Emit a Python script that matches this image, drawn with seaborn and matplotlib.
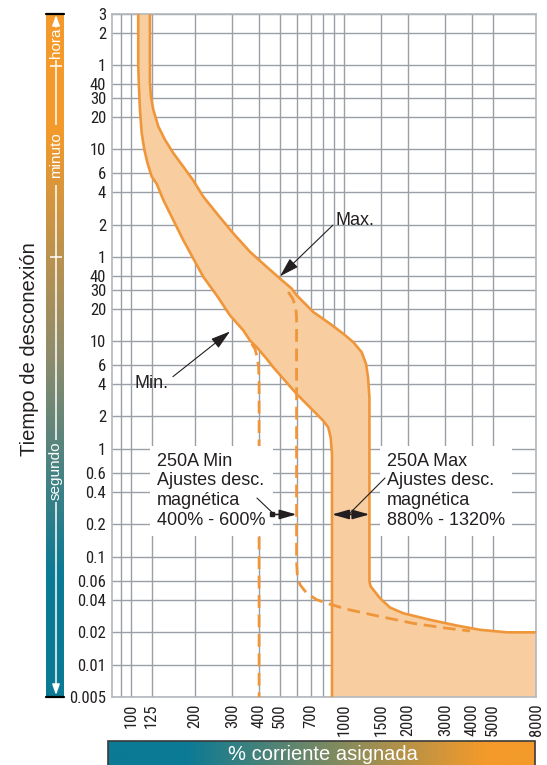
import numpy as np
import pandas as pd
import matplotlib
matplotlib.use("Agg")
import matplotlib.pyplot as plt
from matplotlib import font_manager as fm
from matplotlib.colors import LinearSegmentedColormap
from matplotlib.ticker import NullLocator
from matplotlib.patches import Rectangle
import seaborn as sns

# ---------------- data (percent of rated current, time in seconds) ----------------
max_pct = [122.8, 122.8, 124.1, 127.3, 134.4, 144.4, 158.1, 176.0, 196.0, 218.7, 252.7,
           302.5, 362.4, 434.2, 501.4, 569.1, 600.6, 719.0, 861.0, 994.7, 1108, 1214,
           1272, 1300, 1320, 1320, 1338, 1480, 1648, 1904, 2542, 3393, 4365, 5830, 8000]
max_sec = [10800, 2489, 1866, 1403, 981, 738, 554, 416, 310, 218.8, 153.2,
           99.8, 67.3, 48.8, 38.0, 30.7, 26.6, 18.6, 14.5, 11.7, 9.77, 7.88,
           6.15, 4.61, 3.00, 0.059, 0.053, 0.0412, 0.0338, 0.0299, 0.0260, 0.0230, 0.0210, 0.0199, 0.0199]

min_pct = [108.2, 108.2, 109.0, 110.2, 112.3, 115.6, 119.6, 125.1, 132.1, 141.9, 158.0,
           176.1, 196.2, 218.7, 252.7, 292.0, 337.2, 362.4, 389.6, 434.2, 466.4, 600.6,
           719.0, 801.0, 845.6, 867.8, 880.0, 880.0]
min_sec = [10800, 3550, 2313, 1403, 851, 595, 448, 336, 287, 203.7, 132.7,
           86.4, 58.4, 39.4, 26.6, 17.3, 12.56, 10.13, 8.78, 6.84, 5.71, 3.23,
           2.26, 1.82, 1.58, 1.27, 0.893, 0.005]

dmin_pct = [369.0, 382.5, 392.0, 398.0, 400.0, 400.0]
dmin_sec = [9.44, 8.48, 7.08, 5.71, 4.0, 0.005]

dmax_pct = [548.6, 575.3, 594.3, 600.0, 600.0, 604.6, 622.5, 669.4, 746, 861, 1032,
            1479, 2121, 3045, 3917]
dmax_sec = [28.5, 24.8, 20.7, 16.7, 0.0906, 0.0681, 0.0550, 0.0459, 0.0399, 0.0363, 0.0326,
            0.0279, 0.0241, 0.0217, 0.0205]

x_tick_vals = [100, 125, 200, 300, 400, 500, 700, 1000, 1500, 2000, 3000, 4000, 5000, 8000]
x_grid_only = [90, 600, 800, 900]
y_tick_vals = [10800, 7200, 3600, 2400, 1800, 1200, 600, 360, 240, 120, 60, 40, 30, 20, 10,
               6, 4, 2, 1, 0.6, 0.4, 0.2, 0.1, 0.06, 0.04, 0.02, 0.01, 0.005]
y_tick_labels = ["3", "2", "1", "40", "30", "20", "10", "6", "4", "2", "1", "40", "30", "20",
                 "10", "6", "4", "2", "1", "0.6", "0.4", "0.2", "0.1", "0.06", "0.04", "0.02",
                 "0.01", "0.005"]

# ---------------- style ----------------
ORANGE = "#F0963A"
FILL = "#F8CDA0"
TEAL = "#0B7A95"
BAR_OR = "#F39A2B"
INK = "#231F20"
GRID = "#9A9FA5"

sns.set_theme(style="white")
plt.rcParams['font.family'] = ['Liberation Sans', 'DejaVu Sans']

# condensed face for tick numbers if one is installed, else a smaller regular face
installed = {f.name for f in fm.fontManager.ttflist}
narrow = next((n for n in ['Liberation Sans Narrow', 'Roboto Condensed', 'Open Sans Condensed',
                           'Arial Narrow', 'DejaVu Sans Condensed'] if n in installed), None)
if narrow:
    tick_family, tick_size = [narrow, 'Liberation Sans'], 12
else:
    tick_family, tick_size = ['Liberation Sans', 'DejaVu Sans'], 11

W, H = 547, 765
fig = plt.figure(figsize=(W / 100, H / 100), dpi=100)
ax = fig.add_axes([111.7 / W, 1 - 697 / H, (536 - 111.7) / W, (697 - 14) / H])
ax.set_xscale('log')
ax.set_yscale('log')

# fill band
poly_x = min_pct + [8000] + max_pct[::-1]
poly_y = min_sec + [0.005] + max_sec[::-1]
ax.fill(poly_x, poly_y, color=FILL, lw=0, zorder=2)

df_max = pd.DataFrame({'pct': max_pct, 'sec': max_sec})
df_min = pd.DataFrame({'pct': min_pct, 'sec': min_sec})
df_dmin = pd.DataFrame({'pct': dmin_pct, 'sec': dmin_sec})
df_dmax = pd.DataFrame({'pct': dmax_pct, 'sec': dmax_sec})

for d in (df_max, df_min):
    sns.lineplot(data=d, x='pct', y='sec', ax=ax, sort=False, estimator=None,
                 color=ORANGE, linewidth=1.9, zorder=4)
for d in (df_dmin, df_dmax):
    sns.lineplot(data=d, x='pct', y='sec', ax=ax, sort=False, estimator=None,
                 color=ORANGE, linewidth=2.0, linestyle=(0, (4.6, 2.4)), zorder=4)

ax.set_xlim(81.2, 8000)
ax.set_ylim(0.005, 10800)
ax.set_xlabel('')
ax.set_ylabel('')

xt = sorted(x_tick_vals + x_grid_only)
ax.set_xticks(xt)
ax.set_xticklabels([str(v) if v in x_tick_vals else '' for v in xt], rotation=90)
ax.set_yticks(y_tick_vals)
ax.set_yticklabels(y_tick_labels)
ax.xaxis.set_minor_locator(NullLocator())
ax.yaxis.set_minor_locator(NullLocator())
ax.tick_params(axis='both', length=0, colors=INK)
ax.tick_params(axis='x', pad=4.5)
ax.tick_params(axis='y', pad=4)
for lbl in ax.get_xticklabels() + ax.get_yticklabels():
    lbl.set_family(tick_family)
    lbl.set_fontsize(tick_size)
    lbl.set_color(INK)
ax.grid(True, which='major', color=GRID, linewidth=1.0, zorder=0)
ax.set_axisbelow(True)
for s in ax.spines.values():
    s.set_color('#B3B8BD')
    s.set_linewidth(1.2)

# annotations
ax.text(919, 132.7, "Max.", fontsize=13, color=INK, ha='left', va='center', zorder=6)
ax.annotate('', xy=(501.4, 39.9), xytext=(889, 119), zorder=6,
            arrowprops=dict(arrowstyle='-|>,head_length=0.8,head_width=0.24', mutation_scale=15,
                            color=INK, lw=0.8, shrinkA=0, shrinkB=0))
ax.text(104.4, 4.03, "Min.", fontsize=13, color=INK, ha='left', va='center', zorder=6)
ax.annotate('', xy=(291.9, 12.28), xytext=(157.5, 4.68), zorder=6,
            arrowprops=dict(arrowstyle='-|>,head_length=0.8,head_width=0.24', mutation_scale=15,
                            color=INK, lw=0.8, shrinkA=0, shrinkB=0))

box = dict(boxstyle='square,pad=0.4', facecolor='white', edgecolor='none')
ax.text(132.5, 0.92, "250A Min\nAjustes desc.\nmagnética\n400% - 600%", fontsize=13,
        color=INK, ha='left', va='top', linespacing=1.2, bbox=box, zorder=5)
ax.text(1596, 0.92, "250A Max\nAjustes desc.\nmagnética\n880% - 1320%", fontsize=13,
        color=INK, ha='left', va='top', linespacing=1.2, bbox=box, zorder=5)

ax.annotate('', xy=(459, 0.259), xytext=(391, 0.35), zorder=6,
            arrowprops=dict(arrowstyle='-', color=INK, lw=0.8, shrinkA=0, shrinkB=0))
ax.annotate('', xy=(600, 0.2466), xytext=(459, 0.2466), zorder=6,
            arrowprops=dict(arrowstyle='-|>,head_length=0.85,head_width=0.24',
                            mutation_scale=12, color=INK, lw=1.2, shrinkA=0, shrinkB=0))
ax.plot([462], [0.2466], marker='s', markersize=3.5, color=INK, zorder=6)
ax.annotate('', xy=(1069, 0.2535), xytext=(1562, 0.537), zorder=6,
            arrowprops=dict(arrowstyle='-', color=INK, lw=0.8, shrinkA=0, shrinkB=0))
ax.annotate('', xy=(1320, 0.2466), xytext=(880, 0.2466), zorder=6,
            arrowprops=dict(arrowstyle='<|-|>,head_length=0.85,head_width=0.24',
                            mutation_scale=12, color=INK, lw=1.2, shrinkA=0, shrinkB=0))

# ---------------- decorative bars (figure pixel coordinates) ----------------
ov = fig.add_axes([0, 0, 1, 1])
ov.set_axis_off()
cmap_v = LinearSegmentedColormap.from_list('v', [(0, BAR_OR), (0.17, BAR_OR), (0.5, '#8E8C6C'),
                                                 (0.82, TEAL), (1, TEAL)])
grad = np.linspace(0, 1, 256)[:, None]
ov.imshow(grad, aspect='auto', cmap=cmap_v, extent=(46, 64, 697, 14), interpolation='bilinear')
cmap_h = LinearSegmentedColormap.from_list('h', [(0, TEAL), (0.18, TEAL), (0.88, BAR_OR), (1, BAR_OR)])
ov.imshow(grad.T, aspect='auto', cmap=cmap_h, extent=(108, 535, 766, 741), interpolation='bilinear')
ov.add_patch(Rectangle((108, 741), 427, 25, fill=False, edgecolor='#3A3A3A', lw=1.2))
ov.plot([46, 64], [14, 14], color='black', lw=1.6)
ov.plot([46, 64], [697, 697], color='black', lw=1.6)

lx = 56
wl = dict(color='white', lw=1.1, solid_capstyle='butt')
ov.annotate('', xy=(lx, 15), xytext=(lx, 27),
            arrowprops=dict(arrowstyle='-|>,head_length=0.7,head_width=0.25', mutation_scale=9,
                            color='white', lw=1.1, shrinkA=0, shrinkB=0))
ov.plot([lx, lx], [60, 125], **wl)
ov.plot([lx, lx], [185, 440], **wl)
ov.plot([lx, lx], [502, 688], **wl)
ov.annotate('', xy=(lx, 695), xytext=(lx, 685),
            arrowprops=dict(arrowstyle='-|>,head_length=0.7,head_width=0.25', mutation_scale=9,
                            color='white', lw=1.1, shrinkA=0, shrinkB=0))
for yy in (66, 257):
    ov.plot([50, 62], [yy, yy], **wl)
ov.text(lx, 43, "hora", color='white', fontsize=11, rotation=90, ha='center', va='center')
ov.text(lx, 155, "minuto", color='white', fontsize=11, rotation=90, ha='center', va='center')
ov.text(lx, 471, "segundo", color='white', fontsize=11, rotation=90, ha='center', va='center')
ov.text(323, 754, "% corriente asignada", color='white', fontsize=14.5, ha='center', va='center')
ov.text(30, 349, "Tiempo de desconexión", color=INK, fontsize=14.5, rotation=90,
        ha='center', va='center')
ov.set_xlim(0, W)
ov.set_ylim(H, 0)

fig.savefig("out.png", dpi=100)
